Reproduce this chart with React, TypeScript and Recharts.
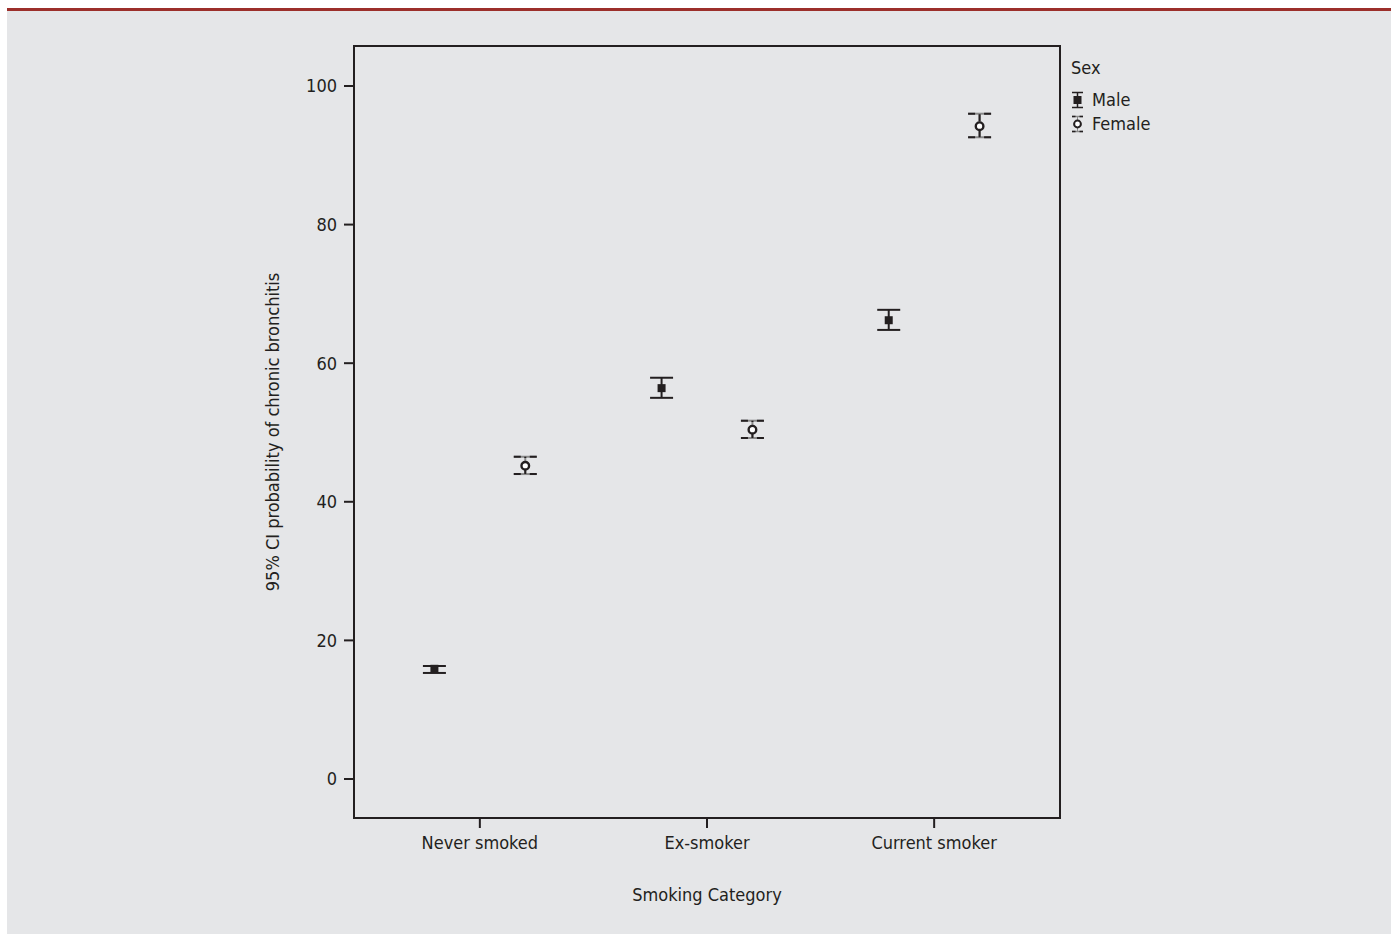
import React from 'react';
import {
  ScatterChart,
  Scatter,
  XAxis,
  YAxis,
  ErrorBar,
  Legend,
  ReferenceArea,
  Label,
} from 'recharts';

// Smoking categories on the x axis
const CATEGORIES = ['Never smoked', 'Ex-smoker', 'Current smoker'];
const SEXES = ['Male', 'Female'];

// Male: mean and 95% CI bounds
const MALE_MEAN = [15.9, 56.4, 66.2];
const MALE_LOW = [15.3, 55.0, 64.8];
const MALE_HIGH = [16.3, 57.9, 67.7];

// Female: mean and 95% CI bounds
const FEMALE_MEAN = [45.2, 50.4, 94.2];
const FEMALE_LOW = [44.0, 49.2, 92.6];
const FEMALE_HIGH = [46.5, 51.7, 96.0];

const Y_TICKS = [0, 20, 40, 60, 80, 100];
const X_TICKS = [1, 2, 3];

const X_DOMAIN: [number, number] = [0.446, 3.554];
const Y_DOMAIN: [number, number] = [-5.63, 105.77];
const GROUP_OFFSET = 0.2;

const INK = '#231f20';
const FONT = "'DejaVu Sans Condensed', 'Liberation Sans Narrow', Roboto, sans-serif";
const FONT_SIZE = 18;

const build = (mean: number[], low: number[], high: number[], offset: number) =>
  CATEGORIES.map((name, i) => ({
    name,
    x: i + 1 + offset,
    y: mean[i],
    err: [mean[i] - low[i], high[i] - mean[i]],
  }));

const maleData = build(MALE_MEAN, MALE_LOW, MALE_HIGH, -GROUP_OFFSET);
const femaleData = build(FEMALE_MEAN, FEMALE_LOW, FEMALE_HIGH, GROUP_OFFSET);

const SquareDot = ({ cx, cy }: any) => (
  <rect x={cx - 4} y={cy - 4} width={8} height={8} fill={INK} />
);

const RingDot = ({ cx, cy }: any) => (
  <circle cx={cx} cy={cy} r={3.8} fill="#ffffff" stroke={INK} strokeWidth={2.4} />
);

const LegendIcon = ({ female }: { female: boolean }) => (
  <svg width={13} height={18} style={{ marginRight: 8 }}>
    {female ? (
      <>
        <line x1={6.5} y1={1.5} x2={6.5} y2={16.5} stroke="#888" strokeWidth={1} />
        <line x1={1} y1={1.5} x2={12} y2={1.5} stroke="#888" strokeWidth={1.5} />
        <line x1={1} y1={16.5} x2={12} y2={16.5} stroke="#888" strokeWidth={1.5} />
        <line x1={1} y1={1.5} x2={12} y2={1.5} stroke={INK} strokeWidth={1.5} strokeDasharray="3.5 4 3.5" />
        <line x1={1} y1={16.5} x2={12} y2={16.5} stroke={INK} strokeWidth={1.5} strokeDasharray="3.5 4 3.5" />
        <circle cx={6.5} cy={9} r={3.4} fill="#fff" stroke={INK} strokeWidth={2} />
      </>
    ) : (
      <>
        <line x1={6.5} y1={1.5} x2={6.5} y2={16.5} stroke={INK} strokeWidth={1.5} />
        <line x1={1} y1={1.5} x2={12} y2={1.5} stroke={INK} strokeWidth={1.5} />
        <line x1={1} y1={16.5} x2={12} y2={16.5} stroke={INK} strokeWidth={1.5} />
        <rect x={2.5} y={5} width={8} height={8} fill={INK} />
      </>
    )}
  </svg>
);

const renderLegend = ({ payload }: any) => {
  const items = [...(payload || [])].sort(
    (a: any, b: any) => SEXES.indexOf(a.value) - SEXES.indexOf(b.value)
  );
  return (
    <div style={{ fontFamily: FONT, fontSize: FONT_SIZE, color: INK, lineHeight: '24px' }}>
    <div style={{ marginBottom: 8 }}>Sex</div>
    {items.map((entry: any) => (
      <div key={entry.value} style={{ display: 'flex', alignItems: 'center', height: 24 }}>
        <LegendIcon female={entry.value === 'Female'} />
        <span>{entry.value}</span>
      </div>
    ))}
    </div>
  );
};

const XTitle = ({ viewBox }: any) => (
  <text
    x={viewBox.x + viewBox.width / 2}
    y={viewBox.y + 76}
    textAnchor="middle"
    dominantBaseline="central"
    fontFamily={FONT}
    fontSize={FONT_SIZE}
    fill={INK}
  >
    Smoking Category
  </text>
);

const YTitle = ({ viewBox }: any) => {
  const x = viewBox.x + 8;
  const y = viewBox.y + viewBox.height / 2;
  return (
    <text
      x={x}
      y={y}
      transform={`rotate(-90, ${x}, ${y})`}
      textAnchor="middle"
      dominantBaseline="central"
      fontFamily={FONT}
      fontSize={FONT_SIZE}
      fill={INK}
    >
      95% CI probability of chronic bronchitis
    </text>
  );
};

const tickStyle = { fontFamily: FONT, fontSize: FONT_SIZE, fill: INK };

const App: React.FC = () => {
  return (
    <div style={{ position: 'absolute', left: 0, top: 0, width: 1391, height: 934, background: '#ffffff' }}>
      <div style={{ position: 'absolute', left: 7, top: 8, width: 1384, height: 3, background: '#9c2f2b' }} />
      <div style={{ position: 'absolute', left: 7, top: 11, width: 1384, height: 923, background: '#e5e6e8' }}>
        <ScatterChart width={1384} height={923} margin={{ top: 35, right: 331, bottom: 16, left: 257 }}>
          <XAxis
            type="number"
            dataKey="x"
            domain={X_DOMAIN}
            ticks={X_TICKS}
            allowDataOverflow
            height={100}
            tickFormatter={(v: number) => CATEGORIES[Math.round(v) - 1] ?? ''}
            tick={tickStyle}
            tickSize={10}
            tickMargin={8}
            axisLine={{ stroke: INK, strokeWidth: 2 }}
            tickLine={{ stroke: INK, strokeWidth: 2 }}
          >
            <Label content={<XTitle />} />
          </XAxis>
          <YAxis
            type="number"
            dataKey="y"
            domain={Y_DOMAIN}
            ticks={Y_TICKS}
            allowDataOverflow
            width={90}
            tick={tickStyle}
            tickSize={10}
            tickMargin={7}
            axisLine={{ stroke: INK, strokeWidth: 2 }}
            tickLine={{ stroke: INK, strokeWidth: 2 }}
          >
            <Label content={<YTitle />} />
          </YAxis>
          <ReferenceArea
            x1={X_DOMAIN[0]}
            x2={X_DOMAIN[1]}
            y1={Y_DOMAIN[0]}
            y2={Y_DOMAIN[1]}
            fill="none"
            stroke={INK}
            strokeWidth={2}
            ifOverflow="visible"
          />
          <Legend
            layout="vertical"
            align="center"
            verticalAlign="middle"
            content={renderLegend}
            wrapperStyle={{ left: 1064, top: 45, width: 120 }}
          />
          <Scatter name="Male" data={maleData} shape={<SquareDot />} isAnimationActive={false}>
            <ErrorBar dataKey="err" direction="y" width={11.5} stroke={INK} strokeWidth={2} isAnimationActive={false} />
          </Scatter>
          <Scatter name="Female" data={femaleData} shape={<RingDot />} isAnimationActive={false}>
            <ErrorBar dataKey="err" direction="y" width={11.5} stroke="#8a8a8a" strokeWidth={2} isAnimationActive={false} />
            <ErrorBar
              dataKey="err"
              direction="y"
              width={11.5}
              stroke={INK}
              strokeWidth={2}
              strokeDasharray="7 9 7 400"
              isAnimationActive={false}
            />
          </Scatter>
        </ScatterChart>
      </div>
    </div>
  );
};

export default App;
